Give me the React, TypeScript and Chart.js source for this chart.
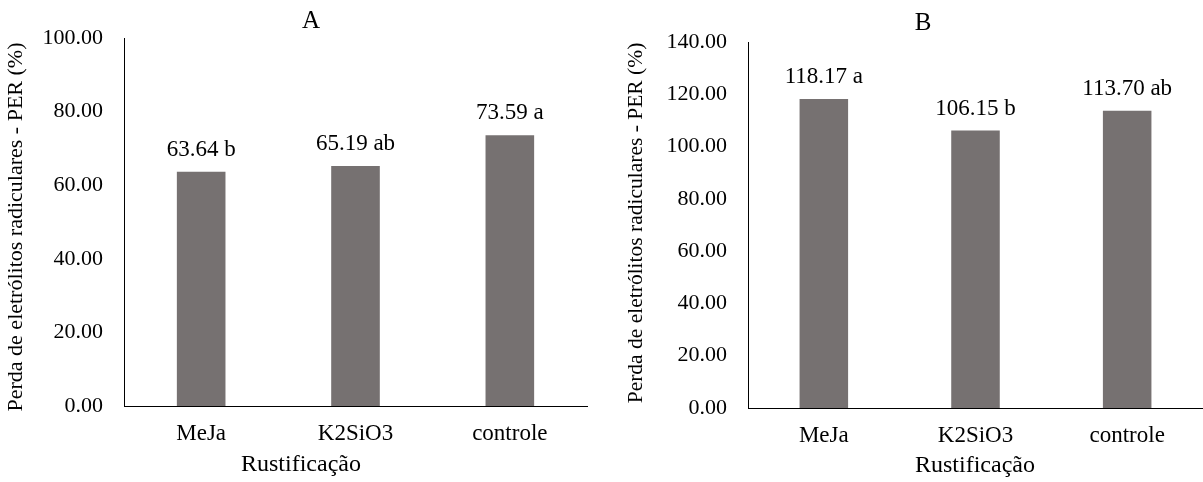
import React, { useEffect, useRef } from 'react';
import { Chart, registerables } from 'chart.js';

Chart.register(...registerables);

// ---- data ----
const categories = ['MeJa', 'K2SiO3', 'controle'];
const valuesA = [63.64, 65.19, 73.59];
const lettersA = ['b', 'ab', 'a'];
const valuesB = [118.17, 106.15, 113.7];
const lettersB = ['a', 'b', 'ab'];
const yMaxA = 100;
const yMaxB = 140;
const yStep = 20;
const titleA = 'A';
const titleB = 'B';
const xTitle = 'Rustificação';
const yTitle = 'Perda de eletrólitos radiculares - PER (%)';

// ---- style ----
const FONT = '"Liberation Serif", "Times New Roman", serif';
const BAR = '#767171';
const INK = '#000000';

const panelText = {
  id: 'panelText',
  afterDraw(chart: any, _args: any, opts: any) {
    const ctx = chart.ctx;
    ctx.save();
    ctx.fillStyle = INK;
    ctx.textAlign = 'center';
    ctx.textBaseline = 'middle';
    // value labels above bars
    const meta = chart.getDatasetMeta(0);
    const ds = chart.data.datasets[0];
    ctx.font = `${opts.labelSize}px ${FONT}`;
    meta.data.forEach((bar: any, i: number) => {
      const v = Number(ds.data[i]);
      ctx.fillText(`${v.toFixed(2)} ${opts.letters[i]}`, bar.x, bar.y - opts.labelGap);
    });
    // panel title
    ctx.font = `${opts.titleSize}px ${FONT}`;
    ctx.fillText(opts.title, opts.titleX, opts.titleY);
    // x axis title
    ctx.font = `${opts.xTitleSize}px ${FONT}`;
    ctx.fillText(opts.xTitle, opts.xTitleX, opts.xTitleY);
    // y axis title (rotated)
    ctx.save();
    ctx.translate(opts.yTitleX, opts.yTitleY);
    ctx.rotate(-Math.PI / 2);
    ctx.font = `${opts.yTitleSize}px ${FONT}`;
    ctx.fillText(opts.yTitle, 0, 0);
    ctx.restore();
    ctx.restore();
  },
};

type PanelProps = {
  left: number;
  width: number;
  values: number[];
  letters: string[];
  yMax: number;
  title: string;
  padTop: number;
  padRight: number;
  yWidth: number;
  xHeight: number;
  titleX: number;
  titleY: number;
  xTitleX: number;
  xTitleY: number;
  yTitleX: number;
  yTitleY: number;
  yTitleSize: number;
  barPct: number;
};

function Panel(p: PanelProps) {
  const ref = useRef<HTMLCanvasElement | null>(null);
  useEffect(() => {
    if (!ref.current) return;
    const chart = new Chart(ref.current, {
      type: 'bar',
      data: {
        labels: categories,
        datasets: [
          {
            data: p.values,
            backgroundColor: BAR,
            borderWidth: 0,
            barPercentage: p.barPct,
            categoryPercentage: 1,
          },
        ],
      },
      options: {
        animation: false,
        responsive: false,
        maintainAspectRatio: false,
        layout: { padding: { top: p.padTop, right: p.padRight, left: 0, bottom: 0 } },
        plugins: {
          legend: { display: false },
          tooltip: { enabled: false },
          title: { display: false },
          panelText: {
            letters: p.letters,
            labelSize: 23,
            labelGap: 22,
            title: p.title,
            titleSize: 25,
            titleX: p.titleX,
            titleY: p.titleY,
            xTitle: xTitle,
            xTitleSize: 24,
            xTitleX: p.xTitleX,
            xTitleY: p.xTitleY,
            yTitle: yTitle,
            yTitleSize: p.yTitleSize,
            yTitleX: p.yTitleX,
            yTitleY: p.yTitleY,
          },
        } as any,
        scales: {
          x: {
            grid: { display: false, drawTicks: false },
            border: { display: true, color: INK, width: 1 },
            ticks: {
              color: INK,
              font: { family: FONT, size: 23 },
              padding: 14,
              maxRotation: 0,
              autoSkip: false,
            },
            afterFit: (s: any) => {
              s.height = p.xHeight;
            },
          },
          y: {
            min: 0,
            max: p.yMax,
            grid: { display: false, drawTicks: false },
            border: { display: true, color: INK, width: 1 },
            ticks: {
              stepSize: yStep,
              color: INK,
              font: { family: FONT, size: 22 },
              padding: 21,
              callback: (v: any) => Number(v).toFixed(2),
            },
            afterFit: (s: any) => {
              s.width = p.yWidth;
            },
          },
        },
      } as any,
      plugins: [panelText as any],
    });
    return () => chart.destroy();
  }, []);
  return (
    <canvas
      ref={ref}
      width={p.width}
      height={482}
      style={{ position: 'absolute', left: p.left, top: 0 }}
    />
  );
}

export default function App() {
  return (
    <div
      style={{
        position: 'absolute',
        left: 0,
        top: 0,
        width: 1203,
        height: 482,
        background: '#ffffff',
        overflow: 'hidden',
      }}
    >
      <Panel
        left={0}
        width={600}
        values={valuesA}
        letters={lettersA}
        yMax={yMaxA}
        title={titleA}
        padTop={38}
        padRight={13}
        yWidth={124}
        xHeight={76}
        titleX={311}
        titleY={21}
        xTitleX={301}
        xTitleY={465}
        yTitleX={16}
        yTitleY={227}
        yTitleSize={22}
        barPct={0.315}
      />
      <Panel
        left={600}
        width={603}
        values={valuesB}
        letters={lettersB}
        yMax={yMaxB}
        title={titleB}
        padTop={42}
        padRight={0}
        yWidth={148}
        xHeight={74}
        titleX={323}
        titleY={23}
        xTitleX={375}
        xTitleY={466}
        yTitleX={36}
        yTitleY={223}
        yTitleSize={21.5}
        barPct={0.32}
      />
    </div>
  );
}
